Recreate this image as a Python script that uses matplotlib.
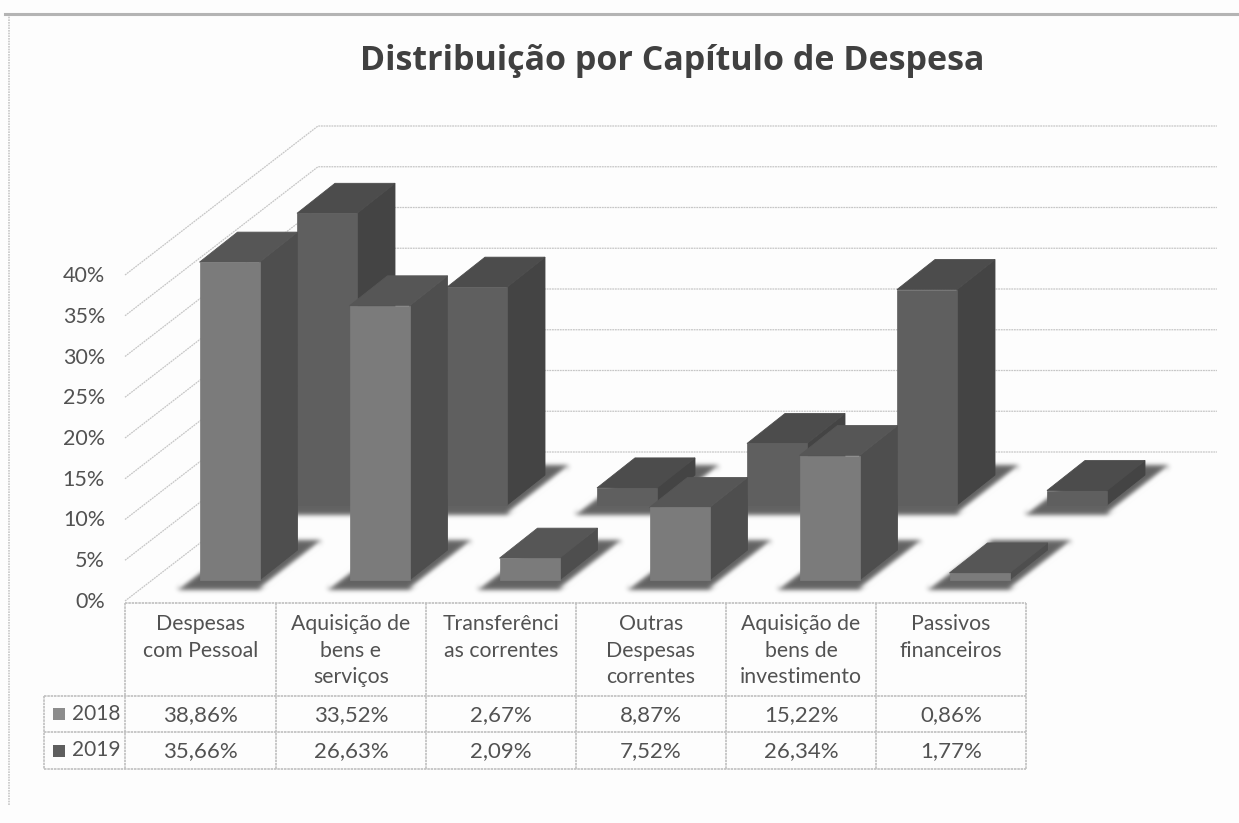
import matplotlib
matplotlib.use("Agg")
import matplotlib.pyplot as plt
import numpy as np

plt.rcParams['font.family'] = ['Lato', 'DejaVu Sans']

title = "Distribuição por Capítulo de Despesa"
categories = ["Despesas\ncom Pessoal", "Aquisição de\nbens e\nserviços", "Transferênci\nas correntes",
              "Outras\nDespesas\ncorrentes", "Aquisição de\nbens de\ninvestimento", "Passivos\nfinanceiros"]
values_2018 = [38.86, 33.52, 2.67, 8.87, 15.22, 0.86]
values_2019 = [35.66, 26.63, 2.09, 7.52, 26.34, 1.77]
labels_2018 = ["38,86%", "33,52%", "2,67%", "8,87%", "15,22%", "0,86%"]
labels_2019 = ["35,66%", "26,63%", "2,09%", "7,52%", "26,34%", "1,77%"]
axis_ticks = [0, 5, 10, 15, 20, 25, 30, 35, 40]

W, H = 1239, 823
PX_X = 150.0        # pixels per category
PX_Y = 8.18         # pixels per percent
X0, Y0 = 229.5, 580.0   # pixel of category 0 centre, 0 % on the front row
BAR_W = 60 / PX_X
DX, DY = 38 / PX_X, 30 / PX_Y            # bar depth
ROW_X, ROW_Y = 97.5 / PX_X, 75 / PX_Y    # offset of the rear row

fig = plt.figure(figsize=(W / 100, H / 100), dpi=100, facecolor="#fdfdfd")
ax = fig.add_axes([0, 0, 1, 1], zorder=2)
ax.set_xlim((0 - X0) / PX_X, (W - X0) / PX_X)
ax.set_ylim((Y0 - H) / PX_Y, Y0 / PX_Y)
ax.axis("off")
ax.patch.set_alpha(0)

tx = fig.add_axes([0, 0, 1, 1], zorder=1)   # under the bars
tx.set_xlim(0, W)
tx.set_ylim(H, 0)
tx.axis("off")
tx.patch.set_alpha(0)

GRID = "#c6c6c6"
TXT = "#525252"
TABLE = "#bfbfbf"
DOTS = (0, (1.5, 0.5))

# frame
tx.plot([9, 9], [14, 805], color="#c8c8c8", lw=1.2, ls=(0, (1, 0.6)))
tx.plot([5, W], [14, 14], color="#b4b4b4", lw=2.2)

# wall grid
AX0, AY0, SCALE = 125, 601, 8.15
for t in axis_ticks:
    y = AY0 - t * SCALE
    tx.plot([AX0, 318, 1217], [y, y - 149, y - 149], color=GRID, lw=0.9, ls=(0, (1.5, 0.6)), zorder=1)
    tx.text(105, y + 1, f"{t}%", ha="right", va="center", fontsize=15.5, color=TXT)


def blur(img, dpi):
    """Gaussian blur of the rendered shadow, for the soft edge."""
    pad = 12
    out = np.zeros((img.shape[0] + 2 * pad, img.shape[1] + 2 * pad, 4))
    out[pad:-pad, pad:-pad] = img
    k = np.exp(-0.5 * (np.arange(-8, 9) / 2.5) ** 2)
    k /= k.sum()
    for c in range(4):
        out[..., c] = np.apply_along_axis(lambda m: np.convolve(m, k, mode="same"), 0, out[..., c])
        out[..., c] = np.apply_along_axis(lambda m: np.convolve(m, k, mode="same"), 1, out[..., c])
    return out, -pad, -pad


def shadow(x0, bottom, z):
    pts_x = [x0 - 22 / PX_X, x0 + 60 / PX_X, x0 + 122 / PX_X, x0 + 42 / PX_X]
    pts_y = [bottom - 9 / PX_Y, bottom - 9 / PX_Y, bottom + 39 / PX_Y, bottom + 39 / PX_Y]
    for p in ax.fill(pts_x, pts_y, facecolor="#626262", lw=0, zorder=z):
        p.set_agg_filter(blur)


def bar3d(i, v, bottom, off, front, side, top, z):
    x0 = i + off - BAR_W / 2
    x1 = x0 + BAR_W
    shadow(x0, bottom, z)
    ax.fill([x1, x1 + DX, x1 + DX, x1], [bottom, bottom + DY, bottom + v + DY, bottom + v],
            facecolor=side, edgecolor=side, lw=0.6, zorder=z + 0.1)
    ax.fill([x0, x1, x1 + DX, x0 + DX], [bottom + v, bottom + v, bottom + v + DY, bottom + v + DY],
            facecolor=top, edgecolor=top, lw=0.6, zorder=z + 0.1)
    ax.bar(x0, v, width=BAR_W, bottom=bottom, align="edge", color=front, edgecolor=front, zorder=z + 0.2, lw=0.5)


for i, v in enumerate(values_2019):
    bar3d(i, v, ROW_Y, ROW_X, "#5f5f5f", "#444444", "#4c4c4c", 5 + i * 0.5)
for i, v in enumerate(values_2018):
    bar3d(i, v, 0, 0, "#7b7b7b", "#4e4e4e", "#565656", 10 + i * 0.5)

# title
tx.text(672, 57, title, ha="center", va="center_baseline", fontsize=24.5, fontweight="bold", color="#404040",
        family=['Open Sans', 'DejaVu Sans'])

# data table
cols = [125, 276, 426, 576, 726, 876, 1026]
rows = [603, 696, 732, 769]
LEFT = 44
for y in rows[:1]:
    tx.plot([cols[0], cols[-1]], [y, y], color=TABLE, lw=1.2, ls=DOTS)
for y in rows[1:]:
    tx.plot([LEFT, cols[-1]], [y, y], color=TABLE, lw=1.2, ls=DOTS)
for x in cols:
    tx.plot([x, x], [rows[0], rows[-1]], color=TABLE, lw=1.2, ls=DOTS)
tx.plot([LEFT, LEFT], [rows[1], rows[-1]], color=TABLE, lw=1.2, ls=DOTS)

FS = 15.3
for i, c in enumerate(categories):
    cx = (cols[i] + cols[i + 1]) / 2
    tx.text(cx, 614, c, ha="center", va="top", fontsize=FS, color=TXT, linespacing=1.42)
    tx.text(cx, (rows[1] + rows[2]) / 2 + 1, labels_2018[i], ha="center", va="center", fontsize=16, color=TXT)
    tx.text(cx, (rows[2] + rows[3]) / 2 + 1, labels_2019[i], ha="center", va="center", fontsize=16, color=TXT)

for r, (name, col) in enumerate([("2018", "#8c8c8c"), ("2019", "#5e5e5e")]):
    yc = (rows[r + 1] + rows[r + 2]) / 2
    tx.add_patch(plt.Rectangle((53, yc - 6), 12, 12, color=col, lw=0))
    tx.text(72, yc, name, ha="left", va="center", fontsize=15, color=TXT)

fig.savefig("out.png", dpi=100, facecolor=fig.get_facecolor())
